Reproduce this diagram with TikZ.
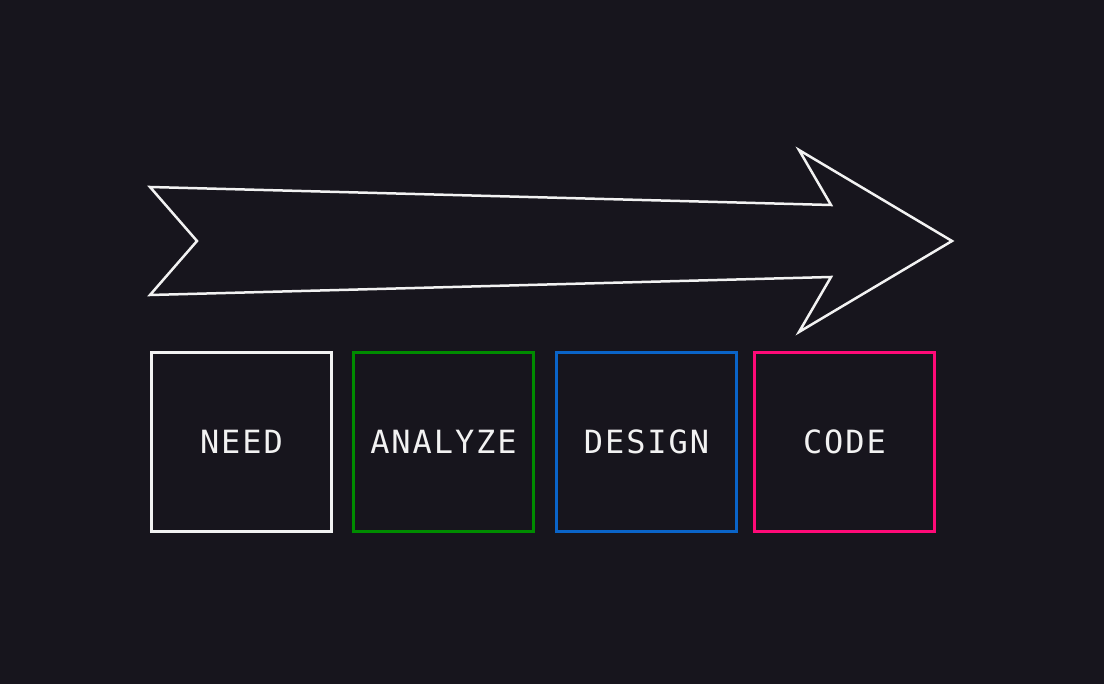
\documentclass[tikz,border=0pt]{standalone}
\usepackage{fontspec}
\setmonofont[LetterSpace=6]{DejaVu Sans Mono}
\usepackage{xcolor}
\definecolor{bg}{HTML}{17151D}
\definecolor{linewhite}{HTML}{F2F2F2}
\definecolor{stepgreen}{HTML}{008C00}
\definecolor{stepblue}{HTML}{0A64C8}
\definecolor{steppink}{HTML}{FF0A78}

\begin{document}
\begin{tikzpicture}[x=1pt, y=-1pt,
    stepbox/.style={draw=#1, line width=2.5pt, minimum width=180pt, minimum height=179pt,
      inner sep=0pt, text=linewhite, font=\ttfamily\fontsize{32}{38}\selectfont}]
      \fill[bg] (0, 0) rectangle (1104, 684);
      \useasboundingbox (0, 0) rectangle (1104, 684);
      \draw[linewhite, line width = 2.5pt, line join = miter]
        (150, 187) -- (831, 205) -- (799, 150) -- (952, 241) -- (799, 332)
        -- (831, 277) -- (150, 295) -- (197, 241) -- cycle;
      \node [stepbox=linewhite] (need) at (241.5, 442) {NEED};
      \node [stepbox=stepgreen] (analyze) at (443.5, 442) {ANALYZE};
      \node [stepbox=stepblue] (design) at (646.5, 442) {DESIGN};
      \node [stepbox=steppink] (code) at (844.5, 442) {CODE};
    \end{tikzpicture}
\end{document}
